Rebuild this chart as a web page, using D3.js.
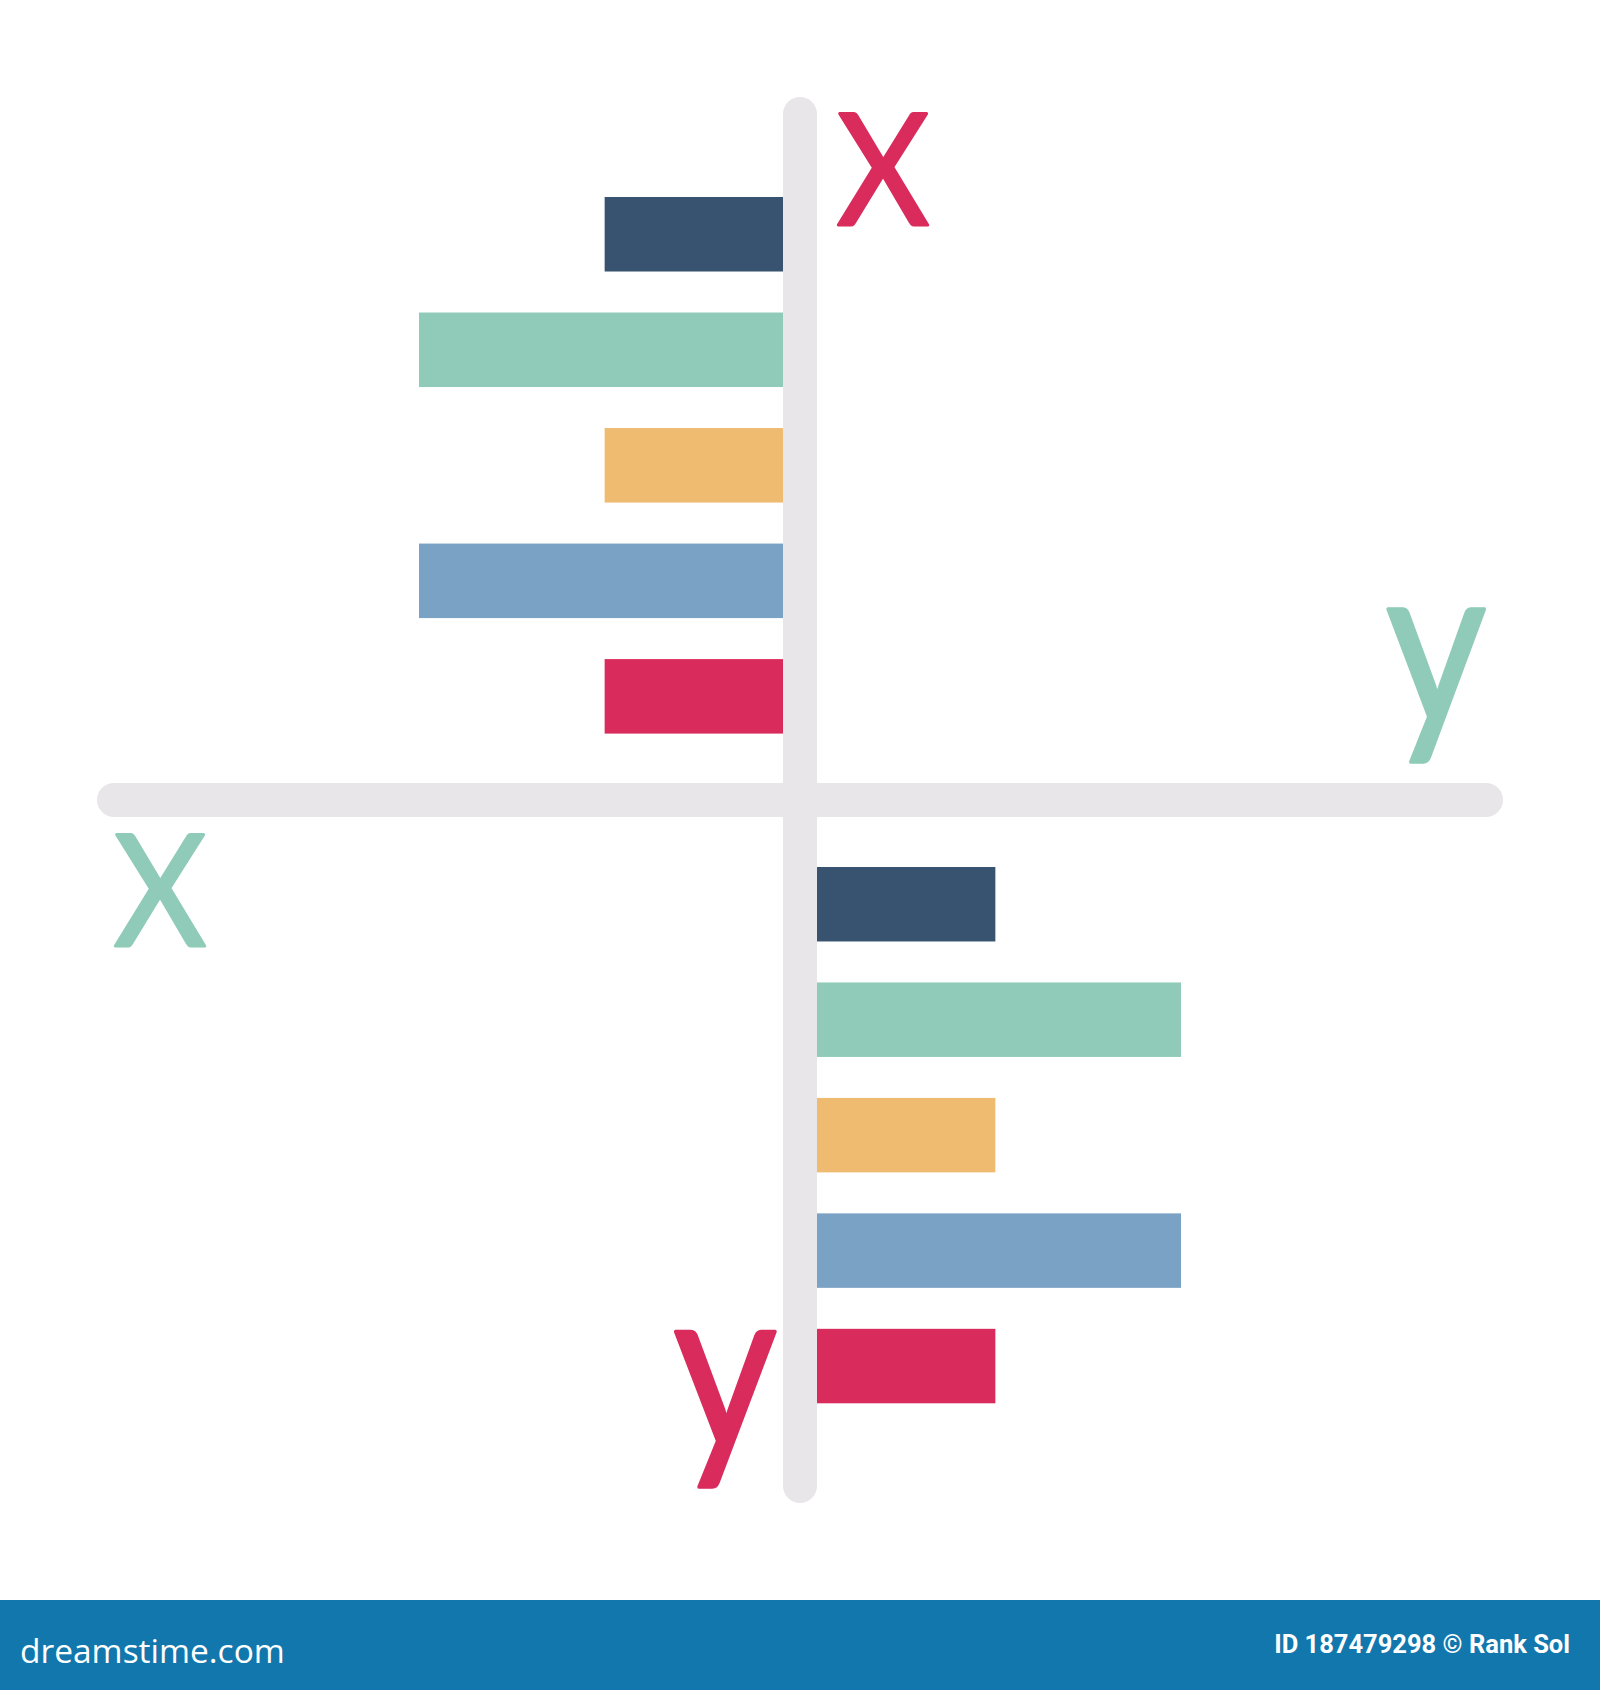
<!DOCTYPE html>
<html>
<head>
<meta charset="utf-8">
<script src="https://cdn.jsdelivr.net/npm/d3@7"></script>
<style>
  html, body { margin: 0; padding: 0; background: #ffffff; }
  svg { display: block; }
</style>
</head>
<body>
<div id="chart"></div>
<script>
// ---- data ----
const categories = ["A", "B", "C", "D", "E"];
const topValues = [49, 100, 49, 100, 49];      // bars pointing left, upper half
const bottomValues = [49, 100, 49, 100, 49];   // bars pointing right, lower half
const barColors = ["#38536f", "#8fcbb8", "#efbb70", "#7aa2c4", "#d92b5c"];
const axisLabels = [
  { text: "X", color: "#d92b5c", pos: "topVertical" },
  { text: "y", color: "#8fcbb8", pos: "rightHorizontal" },
  { text: "X", color: "#8fcbb8", pos: "leftHorizontal" },
  { text: "y", color: "#d92b5c", pos: "bottomVertical" }
];
const footerLeft = "dreamstime.com";
const footerRight = "ID 187479298 \u00A9 Rank Sol";

// ---- layout ----
const W = 1600, H = 1690;
const cx = 800, cy = 800;
const axisW = 34;
const axisExtent = [97, 1503];

const svg = d3.select("#chart").append("svg")
  .attr("width", W).attr("height", H)
  .attr("viewBox", `0 0 ${W} ${H}`);

svg.append("rect").attr("width", W).attr("height", H).attr("fill", "#ffffff");

const xLen = d3.scaleLinear().domain([0, 100]).range([0, 364]);
const yTop = d3.scaleBand().domain(categories).range([197, 733.6]).paddingInner(0.355).paddingOuter(0);
const yBot = d3.scaleBand().domain(categories).range([867, 1403.3]).paddingInner(0.355).paddingOuter(0);

// axes (thick rounded grey bars)
const axisG = svg.append("g");
axisG.append("line")
  .attr("x1", axisExtent[0] + axisW / 2).attr("x2", axisExtent[1] - axisW / 2)
  .attr("y1", cy).attr("y2", cy)
  .attr("stroke", "#e8e6e8").attr("stroke-width", axisW).attr("stroke-linecap", "round");
axisG.append("line")
  .attr("x1", cx).attr("x2", cx)
  .attr("y1", axisExtent[0] + axisW / 2).attr("y2", axisExtent[1] - axisW / 2)
  .attr("stroke", "#e8e6e8").attr("stroke-width", axisW).attr("stroke-linecap", "round");

// upper-left bars
svg.append("g").selectAll("rect")
  .data(categories.map((c, i) => ({ c, v: topValues[i], i })))
  .join("rect")
  .attr("x", d => cx - axisW / 2 - xLen(d.v))
  .attr("y", d => yTop(d.c))
  .attr("width", d => xLen(d.v))
  .attr("height", yTop.bandwidth())
  .attr("fill", d => barColors[d.i]);

// lower-right bars
svg.append("g").selectAll("rect")
  .data(categories.map((c, i) => ({ c, v: bottomValues[i], i })))
  .join("rect")
  .attr("x", cx + axisW / 2)
  .attr("y", d => yBot(d.c))
  .attr("width", d => xLen(d.v))
  .attr("height", yBot.bandwidth())
  .attr("fill", d => barColors[d.i]);

// axis letters
const labelPos = {
  topVertical:     { x: 883,  y: 225,    size: 156, sx: 0.915, sy: 1 },
  leftHorizontal:  { x: 160,  y: 946,    size: 156, sx: 0.915, sy: 1 },
  rightHorizontal: { x: 1436, y: 722.5,  size: 205, sx: 0.95,  sy: 1.1 },
  bottomVertical:  { x: 725,  y: 1447.5, size: 205, sx: 0.98,  sy: 1.12 }
};
svg.append("g").selectAll("text")
  .data(axisLabels)
  .join("text")
  .attr("transform", d => {
    const p = labelPos[d.pos];
    return `translate(${p.x},${p.y}) scale(${p.sx},${p.sy})`;
  })
  .attr("text-anchor", "middle")
  .attr("font-family", "Lato, sans-serif")
  .attr("font-size", d => labelPos[d.pos].size)
  .attr("fill", d => d.color)
  .attr("stroke", d => d.color)
  .attr("stroke-width", 3)
  .attr("stroke-linejoin", "round")
  .text(d => d.text);

// footer band
svg.append("rect").attr("x", 0).attr("y", 1600).attr("width", W).attr("height", 90).attr("fill", "#1177ad");
svg.append("text")
  .attr("x", 20).attr("y", 1663)
  .attr("font-family", "'Open Sans', sans-serif")
  .attr("font-size", 33.5)
  .attr("fill", "#ffffff")
  .text(footerLeft);
svg.append("text")
  .attr("x", 1570).attr("y", 1653)
  .attr("text-anchor", "end")
  .attr("font-family", "Roboto, sans-serif")
  .attr("font-weight", "bold")
  .attr("font-size", 25.5)
  .attr("fill", "#ffffff")
  .text(footerRight);
</script>
</body>
</html>
